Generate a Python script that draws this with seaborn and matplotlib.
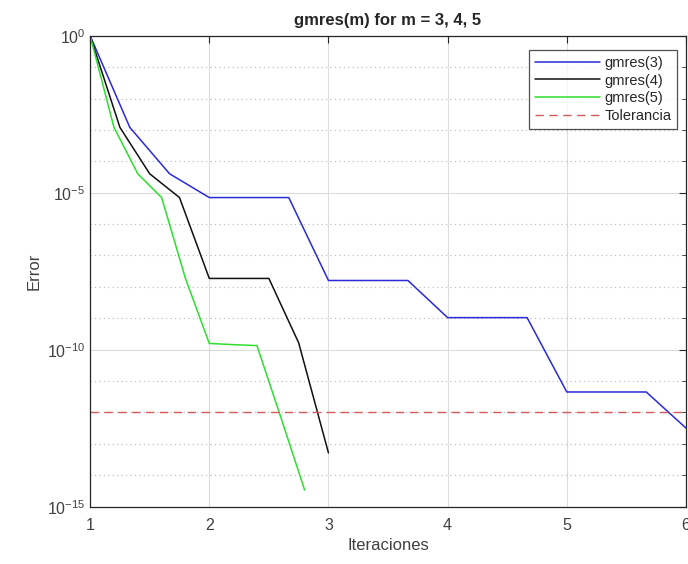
import math
import matplotlib
matplotlib.use("Agg")
import matplotlib.pyplot as plt
import matplotlib.ticker as mticker
import seaborn as sns
import pandas as pd

# ---- data ----
x_g3 = [1.0, 1.333, 1.667, 2.0, 2.333, 2.667, 3.0, 3.333, 3.667, 4.0, 4.333, 4.667, 5.0, 5.333, 5.667, 6.0]
err_g3 = [1.0, 1.2e-3, 4.0e-5, 7.0e-6, 7.0e-6, 7.0e-6, 1.6e-8, 1.6e-8, 1.6e-8,
          1.05e-9, 1.05e-9, 1.05e-9, 4.5e-12, 4.5e-12, 4.5e-12, 3.2e-13]
x_g4 = [1.0, 1.25, 1.5, 1.75, 2.0, 2.25, 2.5, 2.75, 3.0]
err_g4 = [1.0, 1.2e-3, 4.0e-5, 7.0e-6, 1.86e-8, 1.86e-8, 1.86e-8, 1.66e-10, 5.2e-14]
x_g5 = [1.0, 1.2, 1.4, 1.6, 1.8, 2.0, 2.2, 2.4, 2.6, 2.8]
err_g5 = [1.0, 1.2e-3, 4.0e-5, 7.0e-6, 1.86e-8, 1.58e-10, 1.45e-10, 1.35e-10, 7.1e-13, 3.4e-15]
tolerancia = 1e-12
series_names = ["gmres(3)", "gmres(4)", "gmres(5)"]
series_colors = ["#2a2ad8", "#111111", "#2ede2e"]
x_ticks = [1, 2, 3, 4, 5, 6]
y_major = [1e0, 1e-5, 1e-10, 1e-15]

sns.set_style("white")
plt.rcParams["font.family"] = ["Liberation Sans", "DejaVu Sans"]
plt.rcParams["axes.unicode_minus"] = False

fig = plt.figure(figsize=(6.88, 5.64), dpi=100)
ax = fig.add_axes([0.131, 0.1016, 0.866, 0.8351])

for name, xs, ys, col in zip(series_names, [x_g3, x_g4, x_g5], [err_g3, err_g4, err_g5], series_colors):
    df = pd.DataFrame({"x": xs, "y": ys})
    sns.lineplot(data=df, x="x", y="y", ax=ax, color=col, lw=1.1, label=name,
                 estimator=None, sort=False)

ax.axhline(tolerancia, color="#d65a5a", lw=1.0, ls=(0, (6, 4)), label="Tolerancia")

ax.set_yscale("log")
ax.set_xlim(1, 6)
ax.set_ylim(1e-15, 1e0)
ax.set_xticks(x_ticks)
ax.set_yticks(y_major)
ax.yaxis.set_major_formatter(mticker.FuncFormatter(
    lambda v, p: r"$\mathregular{10^{%d}}$" % round(math.log10(v))))
ax.yaxis.set_minor_locator(mticker.FixedLocator([10.0 ** (-k) for k in range(1, 15) if k % 5 != 0]))
ax.yaxis.set_minor_formatter(mticker.NullFormatter())

ax.grid(True, which="major", color="#dcdcdc", lw=0.8, ls="-")
ax.grid(True, which="minor", axis="y", color="#b8b8b8", lw=0.8, ls=(0, (1, 3)))
ax.set_axisbelow(True)

for s in ax.spines.values():
    s.set_color("#262626")
    s.set_linewidth(0.9)
ax.tick_params(axis="both", which="both", direction="in", top=True, right=True,
               colors="#262626", labelcolor="#404040", labelsize=11.5)
ax.tick_params(axis="both", which="major", length=5)
ax.tick_params(axis="y", which="minor", length=3)
ax.tick_params(axis="x", pad=8)

ax.set_xlabel("Iteraciones", fontsize=12, color="#404040")
ax.set_ylabel("Error", fontsize=12, color="#404040")
ax.set_title("gmres(m) for m = 3, 4, 5", fontsize=12, fontweight="bold", pad=8)

leg = ax.legend(loc="upper right", bbox_to_anchor=(0.998, 0.985), fontsize=10.5,
                frameon=True, fancybox=False, handlelength=4.5, handletextpad=0.3,
                borderpad=0.4, labelspacing=0.25)
leg.get_frame().set_edgecolor("#262626")
leg.get_frame().set_linewidth(0.9)

fig.savefig("out.png", dpi=100)
